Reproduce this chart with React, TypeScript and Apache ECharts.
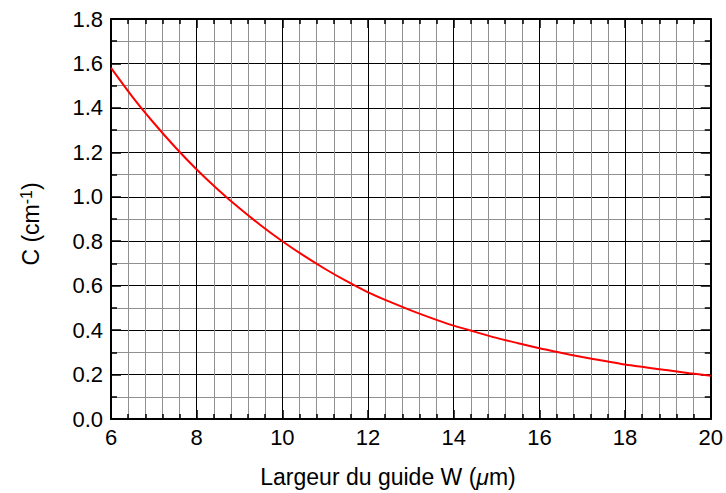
import React, { useEffect, useRef } from "react";
import * as echarts from "echarts";

const widthValues = [6, 6.5, 7, 7.5, 8, 8.5, 9, 9.5, 10, 10.5, 11, 11.5, 12, 12.5, 13, 13.5, 14, 14.5, 15, 15.5, 16, 16.5, 17, 17.5, 18, 18.5, 19, 19.5, 20];
const cValues = [1.58, 1.45, 1.332, 1.223, 1.123, 1.032, 0.948, 0.871, 0.8, 0.735, 0.675, 0.62, 0.57, 0.528, 0.489, 0.453, 0.42, 0.392, 0.365, 0.341, 0.318, 0.298, 0.279, 0.262, 0.245, 0.232, 0.219, 0.206, 0.195];

const FONT = "'Liberation Sans', Arial, Helvetica, sans-serif";

export default function App() {
  const ref = useRef<HTMLDivElement>(null);
  useEffect(() => {
    if (!ref.current) return;
    const chart = echarts.init(ref.current, undefined, { renderer: "svg" });
    const data = widthValues.map((w, i) => [w, cValues[i]]);
    const majorLine = { show: true, lineStyle: { color: "#000", width: 1 } };
    const minorLine = { show: true, lineStyle: { color: "#909090", width: 1 } };
    const axisLine = { show: true, onZero: false, lineStyle: { color: "#000", width: 2 } };
    const xBase = {
      type: "value",
      min: 6,
      max: 20,
      interval: 2,
      axisLine,
      axisTick: { show: true, inside: true, length: 9, lineStyle: { color: "#000", width: 1.5 } },
      minorTick: { show: true, splitNumber: 5, length: 5, lineStyle: { color: "#000", width: 1.5 } },
    };
    const yBase = {
      type: "value",
      min: 0,
      max: 1.8,
      interval: 0.2,
      axisLine,
      axisTick: { show: true, inside: true, length: 10, lineStyle: { color: "#000", width: 1.5 } },
      minorTick: { show: true, splitNumber: 2, length: 6, lineStyle: { color: "#000", width: 1.5 } },
    };
    chart.setOption({
      animation: false,
      backgroundColor: "#fff",
      grid: { left: 111, right: 15, top: 19, bottom: 74, containLabel: false },
      xAxis: [
        {
          ...xBase,
          position: "bottom",
          axisLabel: { show: true, color: "#000", fontSize: 22, fontFamily: FONT, margin: 7 },
          splitLine: majorLine,
          minorSplitLine: minorLine,
        },
        {
          ...xBase,
          position: "top",
          axisLabel: { show: false },
          splitLine: { show: false },
          minorSplitLine: { show: false },
        },
      ],
      yAxis: [
        {
          ...yBase,
          position: "left",
          axisLabel: {
            show: true,
            color: "#000",
            fontSize: 22,
            fontFamily: FONT,
            margin: 8,
            formatter: (v: number) => v.toFixed(1),
          },
          splitLine: majorLine,
          minorSplitLine: minorLine,
        },
        {
          ...yBase,
          position: "right",
          axisLabel: { show: false },
          splitLine: { show: false },
          minorSplitLine: { show: false },
        },
      ],
      graphic: [
        {
          type: "text",
          x: 388,
          y: 477,
          style: {
            text: "Largeur du guide W ({it|μ}m)",
            fill: "#000",
            fontSize: 23,
            fontFamily: FONT,
            align: "center",
            verticalAlign: "middle",
            rich: { it: { fontStyle: "italic", fontSize: 23, fontFamily: FONT, fill: "#000" } },
          },
        },
        {
          type: "text",
          x: 31,
          y: 224,
          rotation: Math.PI / 2,
          style: {
            text: "{b|C (cm}{sup|-1}{b|)}",
            fill: "#000",
            fontSize: 23,
            fontFamily: FONT,
            align: "center",
            verticalAlign: "middle",
            rich: {
              b: { fontSize: 23, fontFamily: FONT, fill: "#000", lineHeight: 26, verticalAlign: "middle" },
              sup: { fontSize: 16, fontFamily: FONT, fill: "#000", lineHeight: 12, verticalAlign: "top" },
            },
          },
        },
      ],
      series: [
        {
          type: "line",
          data,
          smooth: 0.3,
          showSymbol: false,
          symbol: "none",
          lineStyle: { color: "#ff0000", width: 2 },
          z: 10,
        },
      ],
    });
    return () => chart.dispose();
  }, []);
  return <div ref={ref} style={{ position: "fixed", left: 0, top: 0, width: 726, height: 493 }} />;
}
